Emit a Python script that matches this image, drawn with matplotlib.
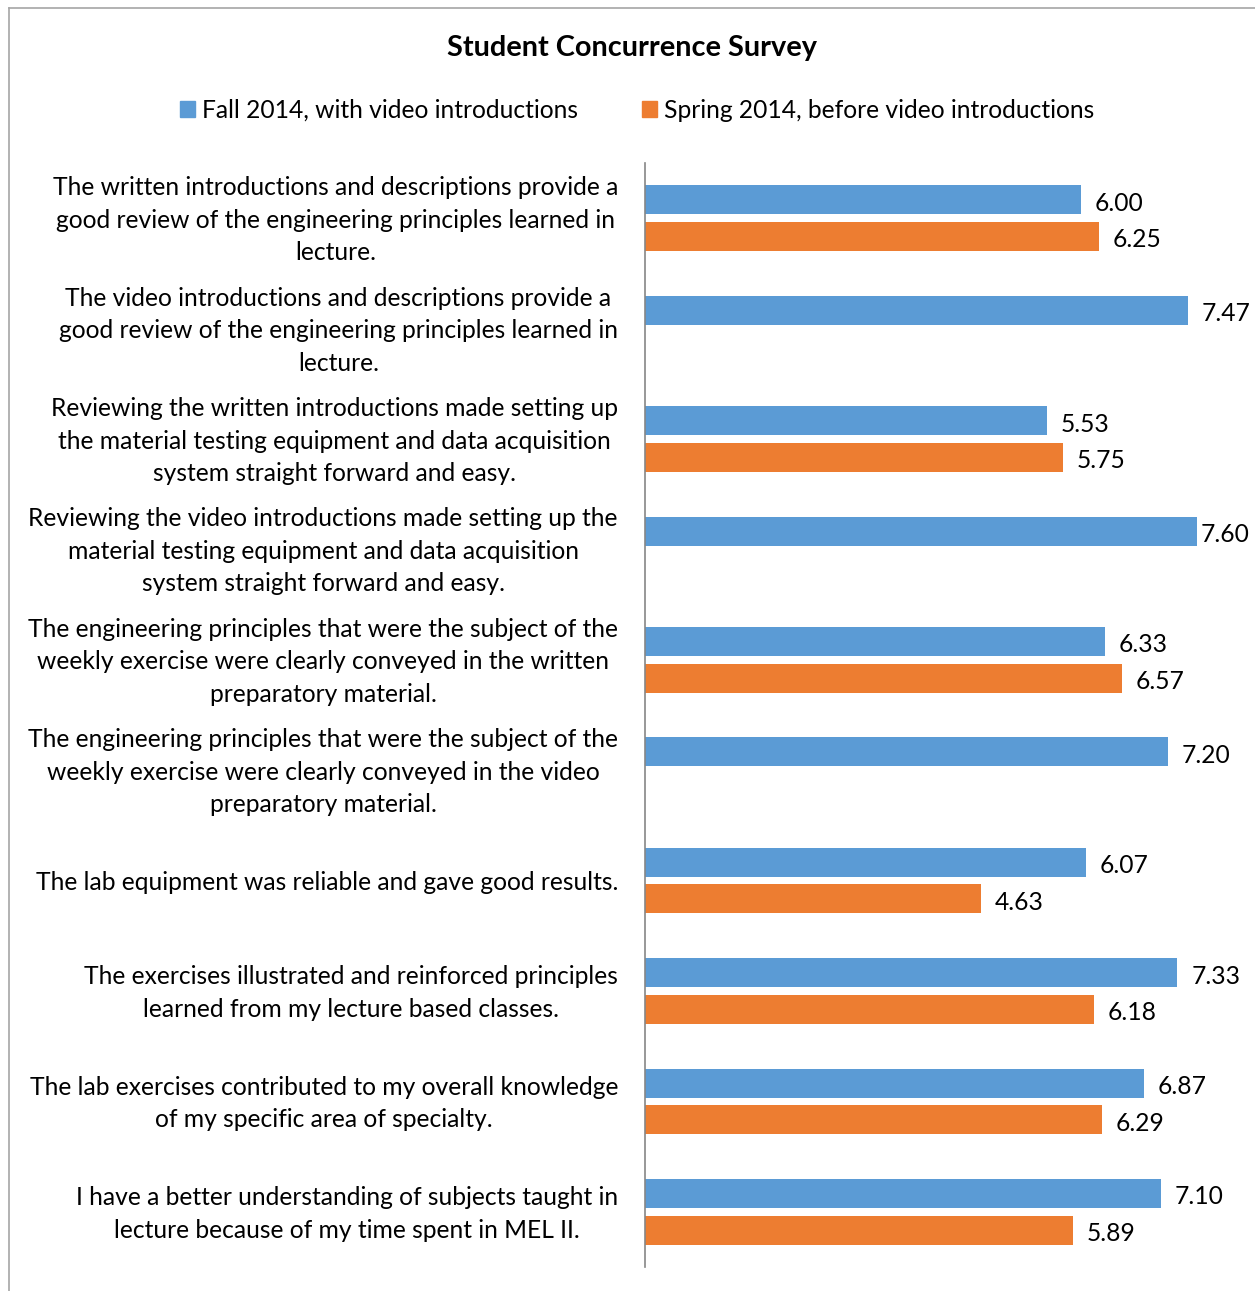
import numpy as np
import matplotlib
matplotlib.use('Agg')
from matplotlib import pyplot as plt
from matplotlib import transforms
from matplotlib.patches import Patch
from matplotlib.lines import Line2D

plt.rcParams['font.family'] = ['Lato', 'DejaVu Sans']

questions = [
    'The written introductions and descriptions provide a\ngood review of the engineering principles learned in\nlecture.',
    'The video introductions and descriptions provide a\ngood review of the engineering principles learned in\nlecture.',
    'Reviewing the written introductions made setting up\nthe material testing equipment and data acquisition\nsystem straight forward and easy.',
    'Reviewing the video introductions made setting up the\nmaterial testing equipment and data acquisition\nsystem straight forward and easy.',
    'The engineering principles that were the subject of the\nweekly exercise were clearly conveyed in the written\npreparatory material.',
    'The engineering principles that were the subject of the\nweekly exercise were clearly conveyed in the video\npreparatory material.',
    'The lab equipment was reliable and gave good results.',
    'The exercises illustrated and reinforced principles\nlearned from my lecture based classes.',
    'The lab exercises contributed to my overall knowledge\nof my specific area of specialty.',
    'I have a better understanding of subjects taught in\nlecture because of my time spent in MEL II.',
]
fall = [6.00, 7.47, 5.53, 7.60, 6.33, 7.20, 6.07, 7.33, 6.87, 7.10]
spring = [6.25, np.nan, 5.75, np.nan, 6.57, np.nan, 4.63, 6.18, 6.29, 5.89]
series_names = ['Fall 2014, with video introductions',
                'Spring 2014, before video introductions']

blue = '#5B9BD5'
orange = '#ED7D31'
W, H = 1255, 1291
fs = 17.7

fig = plt.figure(figsize=(W / 100, H / 100), dpi=100)
ax = fig.add_axes([645 / W, 1 - 1267 / H, (1226 - 645) / W, (1267 - 163) / H])

y = np.arange(len(questions))
bh = 0.262
off = 0.166
ax.barh(y - off, fall, height=bh, color=blue)
ax.barh(y + off, spring, height=bh, color=orange)
ax.set_ylim(len(questions) - 0.5, -0.5)
ax.set_xlim(0, 8)

# value labels (the one near the edge gets pushed closer to its bar)
for i in range(len(questions)):
    for v, dy in ((fall[i], -off), (spring[i], off)):
        if np.isnan(v):
            continue
        dx = 10 if v < 7.5 else 2.5
        ax.annotate(f'{v:.2f}', (v, y[i] + dy), xytext=(dx, -2.5),
                    textcoords='offset points', va='center', ha='left',
                    fontsize=fs, color='black', annotation_clip=False)

for s in ['top', 'right', 'bottom']:
    ax.spines[s].set_visible(False)
ax.spines['left'].set_color('#868686')
ax.spines['left'].set_linewidth(1.2)
ax.set_xticks([])
ax.set_yticks([])

tr = transforms.blended_transform_factory(fig.transFigure, ax.transData)
for i, q in enumerate(questions):
    ax.annotate(q, (618 / W, y[i]), xycoords=tr, xytext=(0, -1.5),
                textcoords='offset points', ha='right', va='center',
                multialignment='center', fontsize=fs, linespacing=1.5,
                color='black')

fig.text(632 / W, 1 - 48 / H, 'Student Concurrence Survey', ha='center',
         va='center', fontsize=20.8, fontweight='bold')

handles = [Patch(color=blue), Patch(color=orange)]
fig.legend(handles, series_names, loc='center', ncol=2, frameon=False,
           bbox_to_anchor=(637 / W, 1 - 110 / H), fontsize=fs,
           handlelength=0.6, handleheight=0.6, handletextpad=0.3,
           columnspacing=2.6)

# chart border (left and top edges visible)
fig.add_artist(Line2D([8.5 / W, 8.5 / W], [0, 1 - 8 / H], transform=fig.transFigure,
                      color='#a6a6a6', lw=1.2))
fig.add_artist(Line2D([8.5 / W, 1], [1 - 8 / H, 1 - 8 / H], transform=fig.transFigure,
                      color='#a6a6a6', lw=1.2))

fig.savefig('out.png', dpi=100)
